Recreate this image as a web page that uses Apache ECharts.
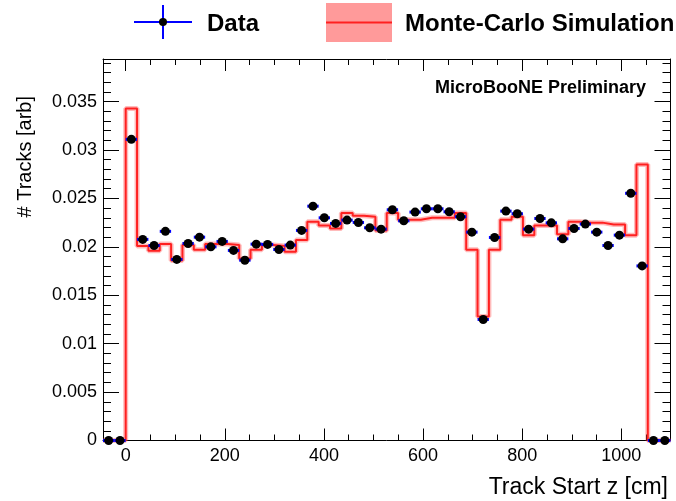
<!DOCTYPE html>
<html><head><meta charset="utf-8">
<script src="https://cdn.jsdelivr.net/npm/echarts@6/dist/echarts.min.js"></script>
<style>html,body{margin:0;padding:0;background:#fff}#c{width:676px;height:501px}</style>
</head><body><div id="c"></div>
<script>
// Histogram binning (cm)
const binLow = -45.8;
const binWidth = 22.9;
const binCount = 50;
const xMin = -45.8;
const xMax = 1099.2;

// Data (black points) per bin
const dataValues = [
  0, 0, 0.0311, 0.02077, 0.02014, 0.0216, 0.0187, 0.02035, 0.0210, 0.0200,
  0.02056, 0.01963, 0.01862, 0.02028, 0.02025, 0.01973, 0.02018, 0.0217, 0.0242, 0.0230,
  0.02242, 0.02276, 0.02252, 0.02197, 0.02183, 0.02383, 0.02269, 0.02359, 0.02393, 0.02393,
  0.02362, 0.02311, 0.02152, 0.0125, 0.02097, 0.02369, 0.02342, 0.02183, 0.02293, 0.02248,
  0.02083, 0.0219, 0.02235, 0.02152, 0.02014, 0.02121, 0.02553, 0.01803, 0, 0
];
// Monte-Carlo simulation (red histogram) per bin
const mcValues = [
  0, 0, 0.0343, 0.0201, 0.0196, 0.0203, 0.0186, 0.0202, 0.0197, 0.0203,
  0.0203, 0.0202, 0.0188, 0.0197, 0.0202, 0.0201, 0.0195, 0.0207, 0.0226, 0.0222,
  0.0219, 0.0235, 0.0232, 0.0231, 0.0217, 0.0235, 0.0228, 0.0228, 0.0230, 0.0230,
  0.0230, 0.0235, 0.0197, 0.0128, 0.0197, 0.0228, 0.0231, 0.0212, 0.0222, 0.0222,
  0.0213, 0.0226, 0.0225, 0.0225, 0.0223, 0.0223, 0.0212, 0.0285, 0, 0
];

const xTickValues = [0, 200, 400, 600, 800, 1000];
const xTickLabels = ['0', '200', '400', '600', '800', '1000'];
const yTickValues = [0, 0.005, 0.01, 0.015, 0.02, 0.025, 0.03, 0.035];
const yTickLabels = ['0', '0.005', '0.01', '0.015', '0.02', '0.025', '0.03', '0.035'];
const yMin = 0, yMax = 0.0394;
const legendLabels = ['Data', 'Monte-Carlo Simulation'];
const xTitle = 'Track Start z [cm]';
const yTitle = '# Tracks [arb]';
const watermark = 'MicroBooNE Preliminary';

// derived
const xMinorValues = [];
for (let v = 50; v < xMax; v += 50) if (v % 200 !== 0) xMinorValues.push(v);
const yMinorValues = [];
for (let k = 1; k * 0.001 < yMax; k++) if (k % 5 !== 0) yMinorValues.push(+(k * 0.001).toFixed(3));

const centers = dataValues.map((_, i) => binLow + binWidth * (i + 0.5));
const dataPoints = dataValues.map((v, i) => [centers[i], v]);
const mcStep = [];
mcValues.forEach((v, i) => {
  mcStep.push([binLow + binWidth * i, v]);
  mcStep.push([binLow + binWidth * (i + 1), v]);
});

const FONT = 'Liberation Sans, Arial, Helvetica, sans-serif';
const lineBlack = { show: true, onZero: false, lineStyle: { color: '#000', width: 1 } };

function xAxisDef(pos, major) {
  return {
    type: 'value', position: pos, min: xMin, max: xMax,
    axisLine: major ? lineBlack : { show: false, onZero: false },
    axisTick: { show: true, inside: true, length: major ? 12 : 6,
      customValues: major ? xTickValues : xMinorValues,
      lineStyle: { color: '#000', width: 1 } },
    axisLabel: (major && pos === 'bottom') ? {
      show: true, customValues: xTickValues, margin: 7,
      formatter: v => xTickLabels[xTickValues.indexOf(v)] ?? '',
      color: '#000', fontSize: 18, fontFamily: FONT
    } : { show: false },
    splitLine: { show: false }
  };
}
function yAxisDef(pos, major) {
  return {
    type: 'value', position: pos, min: yMin, max: yMax,
    axisLine: major ? lineBlack : { show: false, onZero: false },
    axisTick: { show: true, inside: true, length: major ? 16 : 8,
      customValues: major ? yTickValues : yMinorValues,
      lineStyle: { color: '#000', width: 1 } },
    axisLabel: (major && pos === 'left') ? {
      show: true, customValues: yTickValues, margin: 6,
      formatter: v => { const i = yTickValues.findIndex(t => Math.abs(t - v) < 1e-9); return i >= 0 ? yTickLabels[i] : ''; },
      color: '#000', fontSize: 18, fontFamily: FONT
    } : { show: false },
    splitLine: { show: false }
  };
}

const chart = echarts.init(document.getElementById('c'), null, { renderer: 'canvas' });
chart.setOption({
  animation: false,
  backgroundColor: '#fff',
  grid: { left: 103, right: 5.5, top: 59, bottom: 60.5, containLabel: false },
  xAxis: [xAxisDef('bottom', true), xAxisDef('bottom', false), xAxisDef('top', true), xAxisDef('top', false)],
  yAxis: [yAxisDef('left', true), yAxisDef('left', false), yAxisDef('right', true), yAxisDef('right', false)],
  series: [
    { name: legendLabels[1] + ' band', type: 'line', data: mcStep, symbol: 'none', silent: true,
      lineStyle: { color: 'rgba(255,60,60,0.35)', width: 5 }, z: 2 },
    { name: legendLabels[1], type: 'line', data: mcStep, symbol: 'none', silent: true,
      lineStyle: { color: '#ff2020', width: 2 }, z: 3 },
    { name: legendLabels[0] + ' err', type: 'custom', data: dataPoints, silent: true, z: 4,
      clip: false,
      renderItem: function (params, api) {
        const x = api.value(0), y = api.value(1);
        const p1 = api.coord([x - binWidth / 2, y]);
        const p2 = api.coord([x + binWidth / 2, y]);
        return { type: 'line', shape: { x1: p1[0], y1: p1[1], x2: p2[0], y2: p2[1] },
          style: { stroke: '#0000ff', lineWidth: 3 } };
      } },
    { name: legendLabels[0], type: 'scatter', data: dataPoints, symbol: 'circle', symbolSize: 9,
      itemStyle: { color: '#000', opacity: 1 }, clip: false, silent: true, z: 5 }
  ],
  graphic: [
    // legend: Data
    { type: 'line', shape: { x1: 134, y1: 22, x2: 192, y2: 22 }, style: { stroke: '#0000ff', lineWidth: 2 }, z: 10 },
    { type: 'line', shape: { x1: 163, y1: 5, x2: 163, y2: 39 }, style: { stroke: '#0000ff', lineWidth: 2 }, z: 10 },
    { type: 'circle', shape: { cx: 163, cy: 22, r: 4 }, style: { fill: '#000' }, z: 11 },
    { type: 'text', x: 207, y: 24, style: { text: legendLabels[0], fill: '#000', font: 'bold 24px ' + FONT, textAlign: 'left', textVerticalAlign: 'middle' }, z: 10 },
    // legend: MC
    { type: 'rect', shape: { x: 326, y: 3, width: 66, height: 39 }, style: { fill: '#ff9a9a' }, z: 10 },
    { type: 'line', shape: { x1: 326, y1: 22.5, x2: 392, y2: 22.5 }, style: { stroke: '#ff2020', lineWidth: 2 }, z: 11 },
    { type: 'text', x: 405, y: 24, style: { text: legendLabels[1], fill: '#000', font: 'bold 24px ' + FONT, textAlign: 'left', textVerticalAlign: 'middle' }, z: 10 },
    // watermark
    { type: 'text', x: 646, y: 88, style: { text: watermark, fill: '#000', font: 'bold 18px ' + FONT, textAlign: 'right', textVerticalAlign: 'middle' }, z: 10 },
    // axis titles
    { type: 'text', x: 668, y: 488, style: { text: xTitle, fill: '#000', font: '23px ' + FONT, textAlign: 'right', textVerticalAlign: 'middle' }, z: 10 },
    { type: 'text', x: 25, y: 96, rotation: Math.PI / 2, style: { text: yTitle, fill: '#000', font: '20px ' + FONT, textAlign: 'right', textVerticalAlign: 'middle' }, z: 10 }
  ]
});
</script>
</body></html>
